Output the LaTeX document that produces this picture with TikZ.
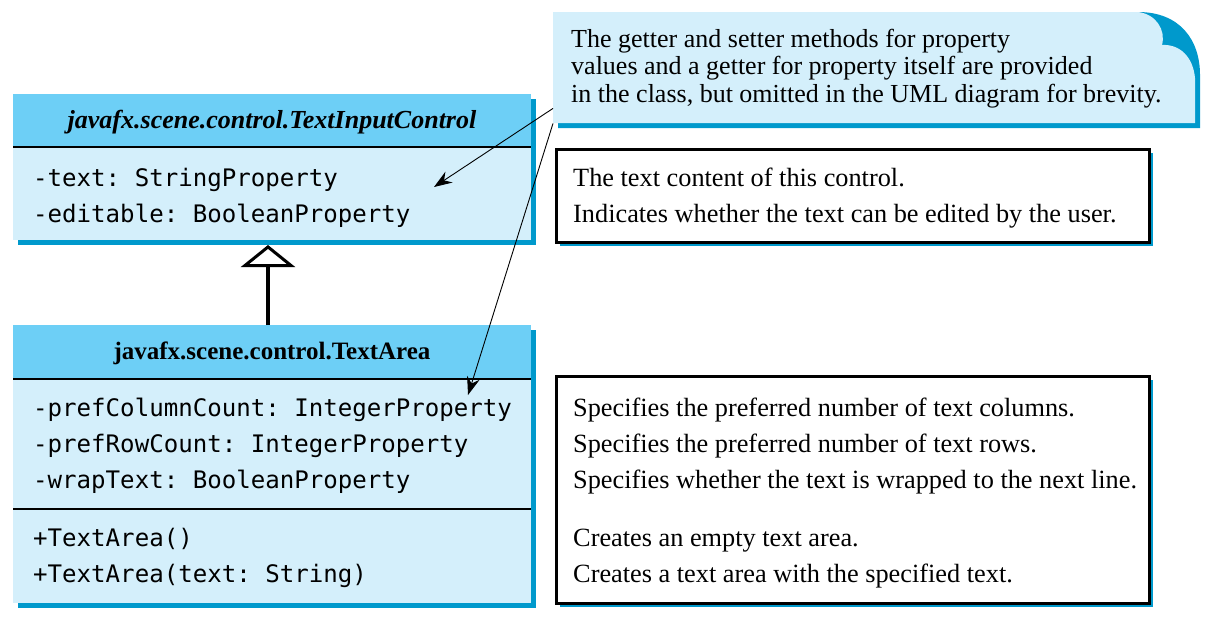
\documentclass[tikz,border=0pt]{standalone}
\usepackage{fontspec}
\setmainfont{Liberation Serif}
\setmonofont{DejaVu Sans Mono}
\usetikzlibrary{arrows.meta,calc,shadows}
\definecolor{headfill}{RGB}{109,207,246}
\definecolor{bodyfill}{RGB}{212,239,251}
\definecolor{shadowblue}{RGB}{0,153,204}
\begin{document}
\begin{tikzpicture}[x=1pt,y=-1pt,
  mono/.style={font=\fontsize{24.1}{28}\selectfont\ttfamily, anchor=base west, inner sep=0},
  desc/.style={font=\fontsize{26.3}{30}\selectfont, anchor=base west, inner sep=0},
  notetxt/.style={font=\fontsize{26}{30}\selectfont, anchor=base west, inner sep=0},
  headtxt/.style={font=\fontsize{25}{29}\selectfont\bfseries, anchor=base, inner sep=0},
  classbody/.style={fill=bodyfill, draw=none, inner sep=0, anchor=north west,
    drop shadow={shadow xshift=5pt, shadow yshift=-5pt, fill=shadowblue, opacity=1}},
  descbox/.style={fill=white, draw=black, line width=2.5pt, inner sep=0, anchor=north west,
    drop shadow={shadow xshift=4pt, shadow yshift=-4pt, fill=shadowblue, opacity=1}},
  sepline/.style={line width=2.5pt, black},
  pointer/.style={line width=0.9pt, -{Stealth[length=18pt,width=13pt,inset=6pt]}},
  inherit/.style={line width=3.5pt, -{Triangle[open,length=22pt,width=54pt,line width=3pt]}}
]
\useasboundingbox (0,0) rectangle (1214,619);

% ---------- note ----------
\fill[shadowblue] (1138,12) .. controls (1180,12) and (1200,40) .. (1200,75)
  -- (1200,128) -- (558,128) -- (558,100) -- (1138,100) -- cycle;
\fill[bodyfill] (553,12) -- (1138,12) .. controls (1156,14) and (1166,30) .. (1162,45)
  .. controls (1180,44) and (1193,57) .. (1195,78) -- (1195,123) -- (553,123) -- cycle;
\node[inner sep=0, minimum width=642pt, minimum height=111pt, anchor=north west] (note) at (553,12) {};
\node[notetxt] (n1) at (571,47) {The getter and setter methods for property};
\node[notetxt] (n2) at (571,74.5) {values and a getter for property itself are provided};
\node[notetxt] (n3) at (571,102) {in the class, but omitted in the UML diagram for brevity.};

% ---------- class TextInputControl ----------
\node[classbody, minimum width=518pt, minimum height=146pt] (c1) at (13,94) {};
\fill[headfill] (c1.north west) rectangle ($(c1.north east)+(0,53)$);
\draw[sepline] ($(c1.north west)+(0,53)$) -- ($(c1.north east)+(0,53)$);
\node[headtxt, font=\fontsize{26}{30}\selectfont\bfseries\itshape] (c1name) at (272,128) {javafx.scene.control.TextInputControl};
\node[mono] (c1a1) at (33,186) {-text: StringProperty};
\node[mono] (c1a2) at (33,222) {-editable: BooleanProperty};

% ---------- class TextArea ----------
\node[classbody, minimum width=518pt, minimum height=278pt] (c2) at (13,325) {};
\fill[headfill] (c2.north west) rectangle ($(c2.north east)+(0,54)$);
\draw[sepline] ($(c2.north west)+(0,54)$) -- ($(c2.north east)+(0,54)$);
\draw[sepline] ($(c2.north west)+(0,184)$) -- ($(c2.north east)+(0,184)$);
\node[headtxt] (c2name) at (272,359) {javafx.scene.control.TextArea};
\node[mono] (c2a1) at (33,416) {-prefColumnCount: IntegerProperty};
\node[mono] (c2a2) at (33,452) {-prefRowCount: IntegerProperty};
\node[mono] (c2a3) at (33,488) {-wrapText: BooleanProperty};
\node[mono] (c2m1) at (33,546) {+TextArea()};
\node[mono] (c2m2) at (33,582) {+TextArea(text: String)};

% ---------- description boxes ----------
\node[descbox, minimum width=593pt, minimum height=93pt] (b1) at (555,148) {};
\node[desc] (b1t1) at (573,186) {The text content of this control.};
\node[desc] (b1t2) at (573,222) {Indicates whether the text can be edited by the user.};

\node[descbox, minimum width=593pt, minimum height=227pt] (b2) at (555,375) {};
\node[desc] (b2t1) at (573,416) {Specifies the preferred number of text columns.};
\node[desc] (b2t2) at (573,452) {Specifies the preferred number of text rows.};
\node[desc] (b2t3) at (573,488) {Specifies whether the text is wrapped to the next line.};
\node[desc] (b2t4) at (573,546) {Creates an empty text area.};
\node[desc] (b2t5) at (573,582) {Creates a text area with the specified text.};

% ---------- connectors ----------
\coordinate (inhtop) at (268,245);
\draw[inherit] (c2.north -| inhtop) -- (inhtop);

\coordinate (p1) at (434,187);
\coordinate (p2) at (468,395);
\draw[pointer] ($(note.south west)+(0,-15)$) -- (p1);
\draw[pointer] (note.south west) -- (p2);
\end{tikzpicture}
\end{document}
